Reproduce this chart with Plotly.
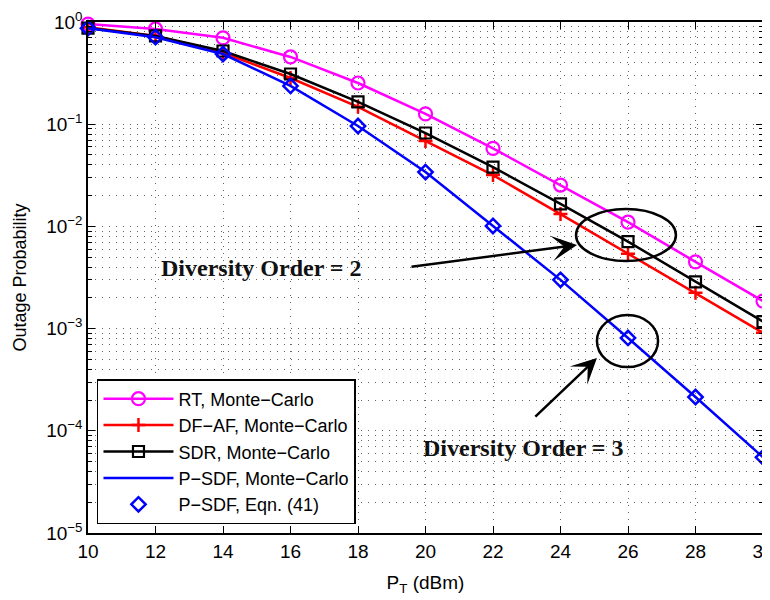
import numpy as np
import plotly.graph_objects as go

# ---- data ----
pt_dbm = [10, 12, 14, 16, 18, 20, 22, 24, 26, 28, 30]
rt_mc = [0.955, 0.855, 0.70, 0.455, 0.253, 0.126, 0.058, 0.0254, 0.011, 0.0045, 0.00186]
dfaf_mc = [0.89, 0.73, 0.50, 0.283, 0.148, 0.0685, 0.0318, 0.0132, 0.0054, 0.00224, 0.00091]
sdr_mc = [0.873, 0.73, 0.52, 0.31, 0.165, 0.082, 0.038, 0.0166, 0.0071, 0.00286, 0.00117]
psdf_mc = [0.87, 0.71, 0.486, 0.237, 0.096, 0.034, 0.0101, 0.0030, 0.00081, 0.000214, 0.000055]
psdf_eqn = [0.87, 0.71, 0.486, 0.237, 0.096, 0.034, 0.0101, 0.0030, 0.00081, 0.000214, 0.000055]

y_tickvals = [1e-5, 1e-4, 1e-3, 1e-2, 1e-1, 1]
y_ticktext = ["10<sup>\u22125</sup>", "10<sup>\u22124</sup>", "10<sup>\u22123</sup>",
              "10<sup>\u22122</sup>", "10<sup>\u22121</sup>", "10<sup>0</sup>"]
x_tickvals = [10, 12, 14, 16, 18, 20, 22, 24, 26, 28, 30]
y_minor = [m * 10.0 ** e for e in range(-5, 0) for m in range(2, 10)]

FONT = "Liberation Sans, Arial, Helvetica, sans-serif"
SERIF = "Liberation Serif, Times New Roman, serif"
GRID = dict(showgrid=True, gridcolor="#666", griddash="1px,6px", gridwidth=1)

fig = go.Figure()
fig.add_trace(go.Scatter(x=pt_dbm, y=rt_mc, mode="lines+markers", name="RT, Monte\u2212Carlo",
                         line=dict(color="#ff00ff", width=2.5),
                         marker=dict(symbol="circle-open", size=13, color="#ff00ff",
                                     line=dict(width=2.2, color="#ff00ff")),
                         cliponaxis=False))
fig.add_trace(go.Scatter(x=pt_dbm, y=dfaf_mc, mode="lines+markers", name="DF\u2212AF, Monte\u2212Carlo",
                         line=dict(color="#ff0000", width=2.5),
                         marker=dict(symbol="cross-thin-open", size=10, color="#ff0000",
                                     line=dict(width=2.5, color="#ff0000")),
                         cliponaxis=False))
fig.add_trace(go.Scatter(x=pt_dbm, y=sdr_mc, mode="lines+markers", name="SDR, Monte\u2212Carlo",
                         line=dict(color="#000000", width=2.5),
                         marker=dict(symbol="square-open", size=11, color="#000000",
                                     line=dict(width=2.2, color="#000000")),
                         cliponaxis=False))
fig.add_trace(go.Scatter(x=pt_dbm, y=psdf_mc, mode="lines", name="P\u2212SDF, Monte\u2212Carlo",
                         line=dict(color="#0000ff", width=2.5), cliponaxis=False))
fig.add_trace(go.Scatter(x=pt_dbm, y=psdf_eqn, mode="markers", name="P\u2212SDF, Eqn. (41)",
                         marker=dict(symbol="diamond-open", size=11, color="#0000ff",
                                     line=dict(width=2.5, color="#0000ff")),
                         cliponaxis=False))

# ellipses (data coordinates)
fig.add_shape(type="circle", xref="x", yref="y", x0=24.46, x1=27.42, y0=0.00458, y1=0.0148,
              line=dict(color="black", width=2.5))
fig.add_shape(type="circle", xref="x", yref="y", x0=25.08, x1=26.89, y0=0.00042, y1=0.00136,
              line=dict(color="black", width=2.5))

# arrows (log units on y for annotations)
fig.add_annotation(x=24.49, y=np.log10(0.00658), ax=19.54, ay=np.log10(0.00401),
                   xref="x", yref="y", axref="x", ayref="y", text="", showarrow=True,
                   arrowhead=3, arrowsize=1.7, arrowwidth=2.5, arrowcolor="black")
fig.add_annotation(x=25.08, y=np.log10(0.000515), ax=23.21, ay=np.log10(0.000133),
                   xref="x", yref="y", axref="x", ayref="y", text="", showarrow=True,
                   arrowhead=3, arrowsize=1.7, arrowwidth=2.5, arrowcolor="black")

fig.add_annotation(x=15.13, y=np.log10(0.00392), xref="x", yref="y", text="<b>Diversity Order = 2</b>",
                   showarrow=False, font=dict(family=SERIF, size=24, color="#111"))
fig.add_annotation(x=22.89, y=np.log10(0.0000678), xref="x", yref="y", text="<b>Diversity Order = 3</b>",
                   showarrow=False, font=dict(family=SERIF, size=24, color="#111"))

# page has an 8px body margin: figure is 762x592 so the plot area lands where the reference's does
fig.update_layout(
    width=762, height=592,
    margin=dict(l=80, r=7, t=14, b=67, autoexpand=False),
    paper_bgcolor="white", plot_bgcolor="white",
    font=dict(family=FONT, size=19, color="black"),
    showlegend=True,
    legend=dict(x=0.0133, y=0.0176, xanchor="left", yanchor="bottom",
                bgcolor="white", bordercolor="black", borderwidth=1.5,
                font=dict(family=FONT, size=18, color="black"), tracegroupgap=0,
                itemwidth=70),
)
fig.update_xaxes(range=[10, 30], tickvals=x_tickvals, ticks="inside", ticklen=7, tickcolor="black",
                 showline=True, linecolor="black", linewidth=1.5, mirror="ticks",
                 zeroline=False, automargin=False, ticklabeloverflow="allow",
                 tickfont=dict(size=19), **GRID,
                 title=dict(text="P<sub>T</sub> (dBm)", font=dict(size=19)))
fig.update_yaxes(type="log", range=[-5, 0], tickvals=y_tickvals, ticktext=y_ticktext,
                 ticks="inside", ticklen=7, tickcolor="black",
                 showline=True, linecolor="black", linewidth=1.5, mirror="ticks",
                 zeroline=False, automargin=False, ticklabeloverflow="allow",
                 tickfont=dict(size=19), **GRID,
                 minor=dict(tickmode="array", tickvals=y_minor, ticks="inside", ticklen=4,
                            tickcolor="black", **GRID),
                 title=dict(text="Outage Probability", font=dict(size=18)))

fig.write_html("out.html")
